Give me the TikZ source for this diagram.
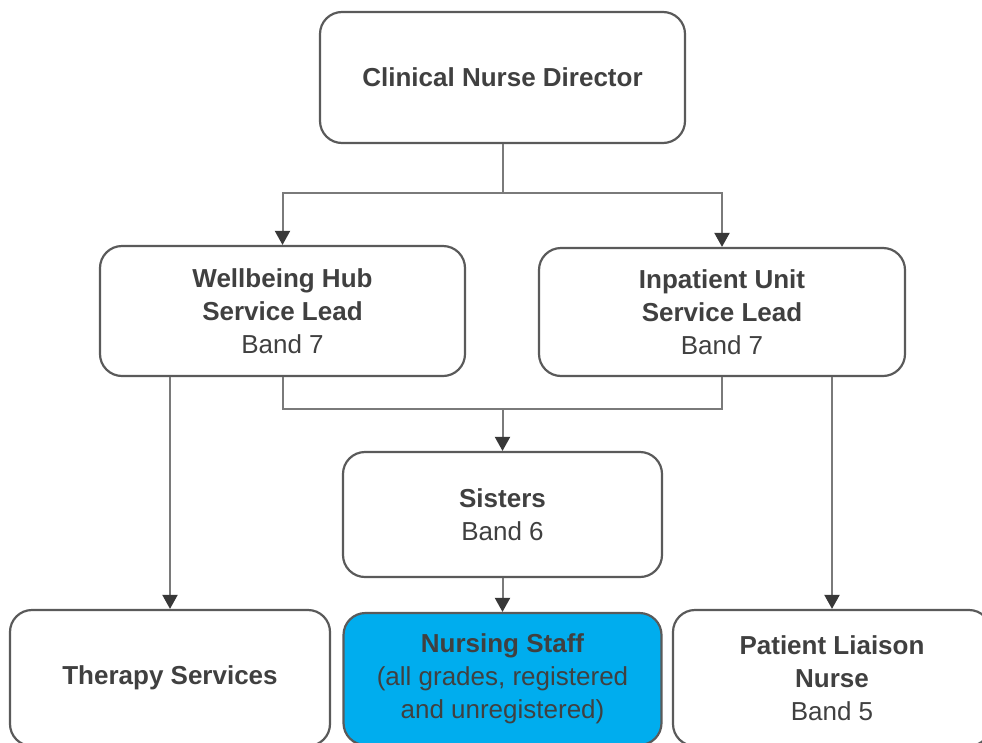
\documentclass[tikz,border=0pt]{standalone}
\usepackage{fontspec}
\setmainfont{Liberation Sans}
\usepackage{xcolor}
\definecolor{boxline}{HTML}{5A5A5A}
\definecolor{linkcolor}{HTML}{7A7A7A}
\definecolor{tipcolor}{HTML}{383838}
\definecolor{textcolor}{HTML}{404040}
\definecolor{staffblue}{HTML}{00ADEE}
\usetikzlibrary{arrows.meta}

\tikzset{
	post/.style={draw=boxline, line width=2.2pt, rounded corners=22pt, fill=white,
		text=textcolor, align=center, font=\fontsize{26}{33}\selectfont, inner sep=0pt},
	link/.style={draw=linkcolor, line width=2pt},
	arr/.style={link, -{Triangle[width=15pt,length=14pt,color=tipcolor]}}
}

\begin{document}
\begin{tikzpicture}[x=1pt,y=-1pt]
	\useasboundingbox (0,0) rectangle (982,742);
	\node [post, minimum width=365pt, minimum height=131pt] (dir) at (502.5, 77.5) {\textbf{Clinical Nurse Director}};
	\node [post, minimum width=365pt, minimum height=130pt] (hub) at (282.5, 311) {\textbf{Wellbeing Hub}\\\textbf{Service Lead}\\Band 7};
	\node [post, minimum width=366pt, minimum height=128pt] (ipu) at (722, 312) {\textbf{Inpatient Unit}\\\textbf{Service Lead}\\Band 7};
	\node [post, minimum width=319pt, minimum height=125pt] (sis) at (502.5, 514.5) {\textbf{Sisters}\\Band 6};
	\node [post, minimum width=320pt, minimum height=136pt] (ther) at (170, 678) {\textbf{Therapy Services}};
	\node [post, fill=staffblue, minimum width=318pt, minimum height=132pt] (staff) at (502.5, 679) {\textbf{Nursing Staff}\\(all grades, registered\\and unregistered)};
	\node [post, minimum width=318pt, minimum height=136pt] (pln) at (832, 678) {\textbf{Patient Liaison}\\\textbf{Nurse}\\Band 5};
	\coordinate (topjoin) at (502.5, 193);
	\coordinate (midjoin) at (502.5, 409);
	\draw [link] (dir.south) -- (topjoin);
	\draw [arr] (topjoin) -| (hub.north);
	\draw [arr] (topjoin) -| (ipu.north);
	\draw [link] (hub.south) -- (hub.south |- midjoin) -- (ipu.south |- midjoin) -- (ipu.south);
	\draw [arr] (midjoin) -- (sis.north);
	\draw [arr] (sis.south) -- (staff.north);
	\draw [arr] (ther.north |- hub.south) -- (ther.north);
	\draw [arr] (pln.north |- ipu.south) -- (pln.north);
\end{tikzpicture}
\end{document}
